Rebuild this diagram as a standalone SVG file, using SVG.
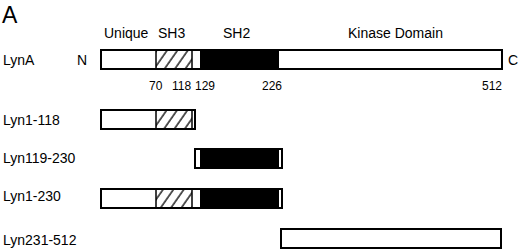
<svg xmlns="http://www.w3.org/2000/svg" width="520" height="251" viewBox="0 0 520 251">
<style>
text{font-family:"Liberation Sans",Arial,sans-serif;fill:#000}
.lbl{font-size:14px}
.num{font-size:12px}
.box{fill:none;stroke:#000;stroke-width:2}
.blk{fill:#000}
.hat{fill:url(#hatch)}
.ln{stroke:#000;stroke-width:1.5}
</style>
<defs>
<pattern id="hatch" patternUnits="userSpaceOnUse" width="8.5" height="8.5" patternTransform="translate(4,0) rotate(35)">
<rect width="8.5" height="8.5" fill="#fff"/>
<line x1="1" y1="0" x2="1" y2="8.5" stroke="#000" stroke-width="1.3"/>
</pattern>
</defs>
<text x="2" y="23" style="font-size:23px">A</text>
<g id="headers">
<text class="lbl" x="104" y="38">Unique</text>
<text class="lbl" x="158" y="38">SH3</text>
<text class="lbl" x="223" y="38">SH2</text>
<text class="lbl" x="348" y="38">Kinase Domain</text>
</g>
<g id="LynA">
<text class="lbl" x="3" y="65">LynA</text>
<text class="lbl" x="77" y="65">N</text>
<text class="lbl" x="508" y="65">C</text>
<rect class="hat" x="156" y="50" width="36" height="19"/>
<rect class="blk" x="200" y="50" width="79" height="19"/>
<rect class="box" x="101" y="50" width="401" height="19"/>
<line class="ln" x1="156" y1="50" x2="156" y2="69"/>
<line class="ln" x1="192" y1="50" x2="192" y2="69"/>
<text class="num" x="149" y="90">70</text>
<text class="num" x="172" y="90">118</text>
<text class="num" x="195" y="90">129</text>
<text class="num" x="262" y="90">226</text>
<text class="num" x="482" y="90">512</text>
</g>
<g id="Lyn1-118">
<text class="lbl" x="3" y="125">Lyn1-118</text>
<rect class="hat" x="156" y="110" width="36" height="19"/>
<rect class="box" x="101" y="110" width="94" height="19"/>
<line class="ln" x1="156" y1="110" x2="156" y2="129"/>
<line class="ln" x1="192" y1="110" x2="192" y2="129"/>
</g>
<g id="Lyn119-230">
<text class="lbl" x="3" y="163">Lyn119-230</text>
<rect class="blk" x="200" y="149" width="79" height="19"/>
<rect class="box" x="195" y="149" width="87" height="19"/>
</g>
<g id="Lyn1-230">
<text class="lbl" x="3" y="201">Lyn1-230</text>
<rect class="hat" x="156" y="189" width="36" height="19"/>
<rect class="blk" x="200" y="189" width="79" height="19"/>
<rect class="box" x="101" y="189" width="181" height="19"/>
<line class="ln" x1="156" y1="189" x2="156" y2="208"/>
<line class="ln" x1="192" y1="189" x2="192" y2="208"/>
</g>
<g id="Lyn231-512">
<text class="lbl" x="3" y="245">Lyn231-512</text>
<rect class="box" x="281" y="229" width="220" height="19" style="fill:#fff"/>
</g>
<g id="connectors"></g>
</svg>
